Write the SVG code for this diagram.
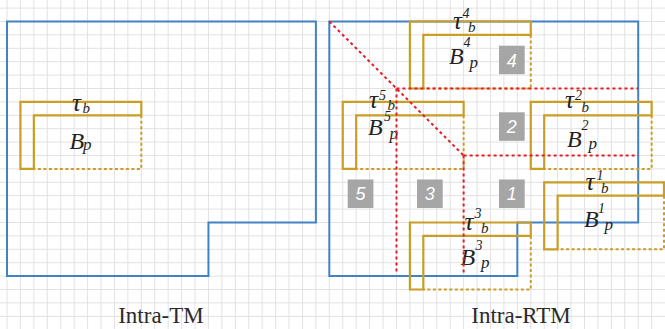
<svg xmlns="http://www.w3.org/2000/svg" width="665" height="329" viewBox="0 0 665 329">
  <style>
    .grid { stroke: #e2e2e2; stroke-width: 1; fill: none; }
    .map { stroke: #4282c3; stroke-width: 2; fill: none; stroke-linejoin: miter; }
    .blk { stroke: #c99d26; stroke-width: 2.2; fill: none; stroke-linejoin: miter; }
    .blk-open { stroke: #c99d26; stroke-width: 2; fill: none; stroke-dasharray: 3 2.5; }
    .cut { stroke: #e31e24; stroke-width: 2; fill: none; stroke-dasharray: 3 3; }
    .sym { font-family: "Liberation Serif", "Times New Roman", serif; font-style: italic; fill: #222; }
    .t { font-size: 25px; }
    .B { font-size: 24px; }
    .sup { font-size: 14px; }
    .sub { font-size: 15px; }
    .subp { font-size: 17px; }
    .cap { font-family: "Liberation Serif", "Times New Roman", serif; font-size: 23px; fill: #2b2b2b; text-anchor: middle; }
    .tag rect { fill: #a6a6a6; }
    .tag text { font-family: "Liberation Sans", Arial, sans-serif; font-style: italic; font-size: 18px; fill: #ffffff; text-anchor: middle; }
  </style>

  <rect width="665" height="329" fill="#ffffff"/>

  <!-- background grid -->
  <path class="grid" d="M7 0V329M20.43 0V329M33.86 0V329M47.29 0V329M60.72 0V329M74.15 0V329M87.58 0V329M101.01 0V329M114.44 0V329M127.87 0V329M141.3 0V329M154.73 0V329M168.16 0V329M181.59 0V329M195.02 0V329M208.45 0V329M221.88 0V329M235.31 0V329M248.74 0V329M262.17 0V329M275.6 0V329M289.03 0V329M302.46 0V329M315.89 0V329M329.32 0V329M342.75 0V329M356.18 0V329M369.61 0V329M383.04 0V329M396.47 0V329M409.9 0V329M423.33 0V329M436.76 0V329M450.19 0V329M463.62 0V329M477.05 0V329M490.48 0V329M503.91 0V329M517.34 0V329M530.77 0V329M544.2 0V329M557.63 0V329M571.06 0V329M584.49 0V329M597.92 0V329M611.35 0V329M624.78 0V329M638.21 0V329M651.64 0V329
M0 8.1H665M0 21.5H665M0 34.9H665M0 48.3H665M0 61.7H665M0 75.1H665M0 88.5H665M0 101.9H665M0 115.3H665M0 128.7H665M0 142.1H665M0 155.5H665M0 168.9H665M0 182.3H665M0 195.7H665M0 209.1H665M0 222.5H665M0 235.9H665M0 249.3H665M0 262.7H665M0 276.1H665M0 289.5H665M0 302.9H665M0 316.3H665"/>

  <!-- map outlines -->
  <g id="map-tm">
    <path class="map" d="M7 21.5H315.89V222.5H208.45V276.1H7Z"/>
  </g>
  <g id="map-rtm">
    <path class="map" d="M329.32 21.5H638.21V222.5H517.34V276.1H329.32Z"/>
  </g>

  <!-- block with border band: left panel -->
  <g id="block-p">
    <path class="blk" d="M20.43 168.9V101.9H141.3V115.3H33.86V168.9Z"/>
    <path class="blk-open" d="M141.3 115.3V168.9H33.86"/>
    <text class="sym"><tspan class="t" x="72" y="110.7">τ</tspan><tspan class="sub" x="82.5" y="113">b</tspan></text>
    <text class="sym"><tspan class="B" x="69.5" y="148.7">B</tspan><tspan class="subp" x="83" y="150">p</tspan></text>
  </g>

  <!-- candidate blocks: right panel -->
  <g id="block-4">
    <path class="blk" d="M409.9 88.5V21.5H530.77V34.9H423.33V88.5Z"/>
    <path class="blk-open" d="M530.77 34.9V88.5H423.33"/>
    <text class="sym"><tspan class="t" x="453" y="29.3">τ</tspan><tspan class="sup" x="462.5" y="18.3">4</tspan><tspan class="sub" x="468" y="31.7">b</tspan></text>
    <text class="sym"><tspan class="B" x="449" y="64.3">B</tspan><tspan class="sup" x="463.5" y="47.3">4</tspan><tspan class="subp" x="469.5" y="67.5">p</tspan></text>
  </g>

  <g id="block-5">
    <path class="blk" d="M342.75 168.9V101.9H463.62V115.3H356.18V168.9Z"/>
    <path class="blk-open" d="M463.62 115.3V168.9H356.18"/>
    <text class="sym"><tspan class="t" x="369" y="108.3">τ</tspan><tspan class="sup" x="379" y="100">5</tspan><tspan class="sub" x="387.5" y="109.5">b</tspan></text>
    <text class="sym"><tspan class="B" x="368" y="135">B</tspan><tspan class="sup" x="384" y="121">5</tspan><tspan class="subp" x="389.5" y="139">p</tspan></text>
  </g>

  <g id="block-2">
    <path class="blk" d="M530.77 168.9V101.9H651.64V115.3H544.2V168.9Z"/>
    <path class="blk-open" d="M651.64 115.3V168.9H544.2"/>
    <text class="sym"><tspan class="t" x="565" y="108.3">τ</tspan><tspan class="sup" x="575" y="100">2</tspan><tspan class="sub" x="581.5" y="112.3">b</tspan></text>
    <text class="sym"><tspan class="B" x="567" y="146.7">B</tspan><tspan class="sup" x="581.5" y="130">2</tspan><tspan class="subp" x="588.5" y="149">p</tspan></text>
  </g>

  <g id="block-1">
    <path class="blk" d="M544.2 249.3V182.3H664V195.7H557.63V249.3Z"/>
    <path class="blk-open" d="M664 195.7V249.3H557.63"/>
    <text class="sym"><tspan class="t" x="585.5" y="190">τ</tspan><tspan class="sup" x="596.5" y="180">1</tspan><tspan class="sub" x="601" y="193.3">b</tspan></text>
    <text class="sym"><tspan class="B" x="584" y="226.7">B</tspan><tspan class="sup" x="598" y="212.5">1</tspan><tspan class="subp" x="604.5" y="229.5">p</tspan></text>
  </g>

  <g id="block-3">
    <path class="blk" d="M409.9 289.5V222.5H530.77V235.9H423.33V289.5Z"/>
    <path class="blk-open" d="M530.77 235.9V289.5H423.33"/>
    <text class="sym"><tspan class="t" x="464.5" y="230">τ</tspan><tspan class="sup" x="474.5" y="218.3">3</tspan><tspan class="sub" x="481" y="233.3">b</tspan></text>
    <text class="sym"><tspan class="B" x="460.5" y="265">B</tspan><tspan class="sup" x="475.5" y="250">3</tspan><tspan class="subp" x="481" y="267.5">p</tspan></text>
  </g>

  <!-- partition cuts -->
  <g id="cuts">
    <path class="cut" d="M329.32 21.5L463.62 155.5"/>
    <path class="cut" d="M396.47 88.5H638.21"/>
    <path class="cut" d="M396.47 88.5V273"/>
    <path class="cut" d="M463.62 155.5H638.21"/>
    <path class="cut" d="M463.62 155.5V273"/>
  </g>

  <!-- region tags -->
  <g id="tag-4" class="tag"><rect x="499" y="45.7" width="25.7" height="28.5"/><text x="511.8" y="66.5">4</text></g>
  <g id="tag-2" class="tag"><rect x="499" y="112.3" width="25.7" height="28.5"/><text x="511.8" y="133">2</text></g>
  <g id="tag-5" class="tag"><rect x="347.7" y="179.5" width="25.7" height="28.5"/><text x="360.5" y="200.3">5</text></g>
  <g id="tag-3" class="tag"><rect x="417" y="179.5" width="25.7" height="28.5"/><text x="429.8" y="200.3">3</text></g>
  <g id="tag-1" class="tag"><rect x="499" y="179.5" width="25.7" height="28.5"/><text x="511.8" y="200.3">1</text></g>

  <!-- captions -->
  <text class="cap" x="161" y="323">Intra-TM</text>
  <text class="cap" x="521" y="323">Intra-RTM</text>
</svg>
